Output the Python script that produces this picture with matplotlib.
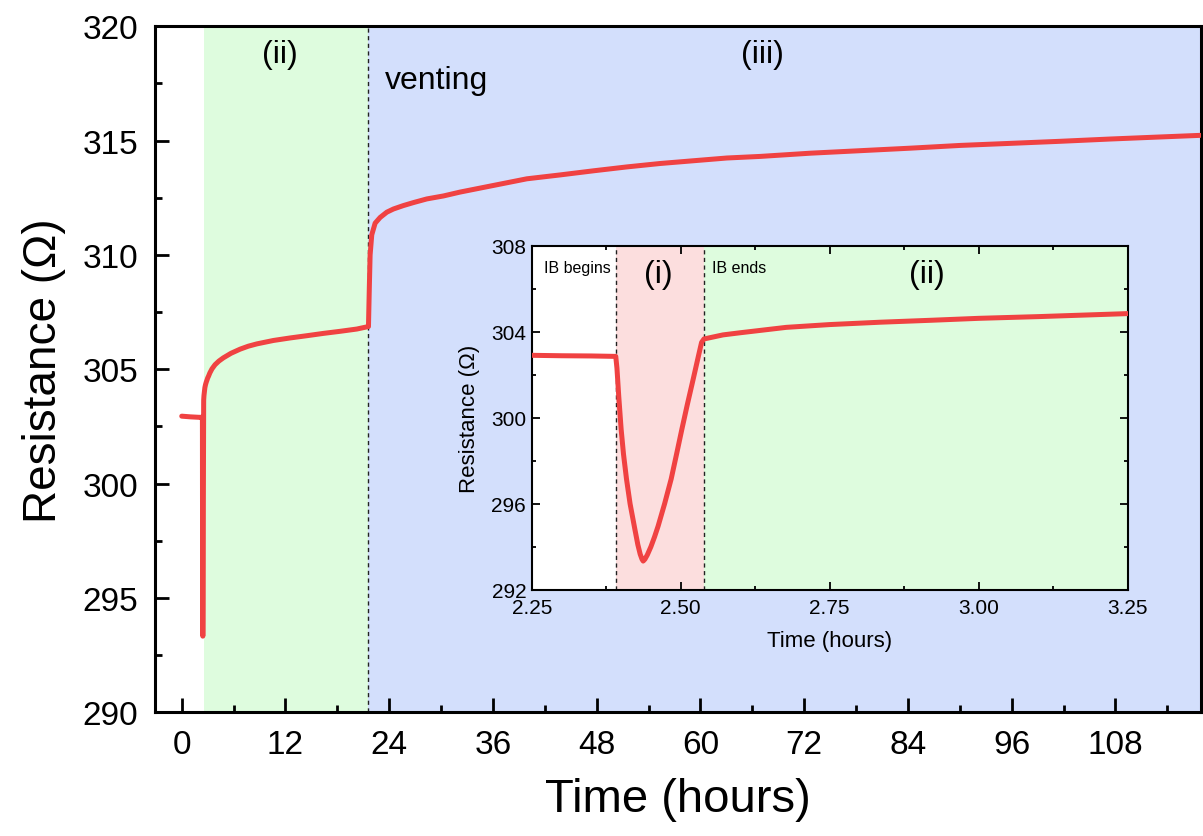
import matplotlib
matplotlib.use("Agg")
import matplotlib.pyplot as plt
import numpy as np

plt.rcParams['font.family'] = ['Liberation Sans', 'DejaVu Sans']

# ---- data ----
time_h = [0.0, 1.0, 2.0, 2.25, 2.30, 2.35, 2.391,
          2.393, 2.396, 2.400, 2.404, 2.409, 2.415, 2.423, 2.428, 2.432, 2.435, 2.437, 2.440, 2.444, 2.450,
          2.456, 2.462, 2.473, 2.484, 2.493, 2.502, 2.511, 2.521, 2.530, 2.535, 2.539,
          2.571, 2.60, 2.677, 2.75, 2.835, 2.92, 3.0, 3.1, 3.25,
          3.5, 3.85, 4.3, 4.81, 5.7, 6.75, 7.7, 8.68, 10.6, 12.53, 14.5, 16.39, 18.3, 20.25, 21.6,
          21.7, 21.79, 21.98, 22.37, 22.95, 23.72, 24.49, 25.64, 26.8, 28.35, 30.27, 32.2,
          36.06, 39.92, 43.77, 47.63, 51.49, 55.35, 59.2, 63.06, 66.95, 72.7, 78.5, 84.3,
          90.06, 95.85, 101.6, 107.4, 113.2, 117.8]
resistance = [302.95, 302.92, 302.9, 302.9, 302.88, 302.87, 302.85,
              302.3, 301.0, 299.47, 298.3, 297.15, 296.0, 294.82, 294.1, 293.65, 293.42, 293.33, 293.42, 293.62, 294.0,
              294.45, 294.95, 296.0, 297.15, 298.3, 299.47, 300.6, 301.8, 302.9, 303.5, 303.66,
              303.85, 303.95, 304.2, 304.33, 304.44, 304.53, 304.62, 304.7, 304.84,
              305.02, 305.2, 305.36, 305.5, 305.7, 305.88, 306.01, 306.11, 306.26, 306.37, 306.47, 306.57, 306.66, 306.76, 306.87,
              308.6, 310.0, 310.88, 311.39, 311.64, 311.87, 312.01, 312.16, 312.29, 312.45, 312.58, 312.75,
              313.04, 313.33, 313.5, 313.68, 313.85, 314.0, 314.12, 314.24, 314.31, 314.45, 314.56, 314.67,
              314.79, 314.88, 314.97, 315.07, 315.16, 315.23]

main_xticks = [0, 12, 24, 36, 48, 60, 72, 84, 96, 108]
main_yticks = [290, 295, 300, 305, 310, 315, 320]
inset_xticks = [2.25, 2.50, 2.75, 3.00, 3.25]
inset_yticks = [292, 296, 300, 304, 308]

ib_begin, ib_end, vent_t = 2.391, 2.539, 21.6

RED = '#F04242'
GREEN = '#DEFCDE'
BLUE = '#D3DFFC'
PINK = '#FCDEDE'

fig = plt.figure(figsize=(12.03, 8.37), dpi=100)
ax = fig.add_axes([0.1288, 0.1478, 0.8695, 0.8196])

ax.axvspan(ib_end, vent_t, color=GREEN, lw=0, zorder=0)
ax.axvspan(vent_t, 130, color=BLUE, lw=0, zorder=0)
ax.axvline(vent_t, color='#222222', ls=(0, (3, 2.5)), lw=1.0, zorder=1)
ax.plot(time_h, resistance, color=RED, lw=3.6, solid_capstyle='round',
        solid_joinstyle='round', zorder=3)

ax.set_xticks(main_xticks)
ax.set_xticks(np.arange(-6, 120, 6), minor=True)
ax.set_yticks(main_yticks)
ax.set_yticks(np.arange(287.5, 321, 2.5), minor=True)
ax.set_xlim(-3.1, 117.9)
ax.set_ylim(290, 320)
ax.tick_params(which='major', direction='in', length=10, width=2, labelsize=24, pad=12)
ax.tick_params(axis='y', which='major', pad=12)
ax.tick_params(which='minor', direction='in', length=5, width=2)
for s in ax.spines.values():
    s.set_linewidth(2.2)
ax.set_xlabel('Time (hours)', fontsize=34, labelpad=12)
ax.set_ylabel('Resistance (\u03a9)', fontsize=33, labelpad=12)

ax.text(11.4, 318.8, '(ii)', fontsize=23, ha='center', va='center')
ax.text(67.2, 318.8, '(iii)', fontsize=23, ha='center', va='center')
ax.text(23.5, 317.65, 'venting', fontsize=23, ha='left', va='center')

# ---- inset ----
ins = fig.add_axes([0.442, 0.2943, 0.4954, 0.411])
ins.set_facecolor('white')
ins.axvspan(ib_begin, ib_end, color=PINK, lw=0, zorder=0)
ins.axvspan(ib_end, 4, color=GREEN, lw=0, zorder=0)
for v in (ib_begin, ib_end):
    ins.axvline(v, color='#222222', ls=(0, (3, 2.5)), lw=1.0, zorder=1)
ins.plot(time_h, resistance, color=RED, lw=3.6, solid_joinstyle='round', zorder=3)
ins.set_xticks(inset_xticks)
ins.set_xticklabels([f'{v:.2f}' for v in inset_xticks])
ins.set_xticks(np.arange(2.375, 3.25, 0.25), minor=True)
ins.set_yticks(inset_yticks)
ins.set_yticks(np.arange(294, 308, 4), minor=True)
ins.set_xlim(2.25, 3.25)
ins.set_ylim(292, 308)
ins.tick_params(which='major', direction='in', length=6, width=1.3, labelsize=15, pad=4,
                top=True, right=True)
ins.tick_params(axis='x', which='major', pad=6)
ins.tick_params(which='minor', direction='in', length=3, width=1.3, top=True, right=True)
for s in ins.spines.values():
    s.set_linewidth(1.5)
ins.set_xlabel('Time (hours)', fontsize=16, labelpad=9)
ins.set_ylabel('Resistance (\u03a9)', fontsize=16, labelpad=8)
ins.text(2.27, 307.0, 'IB begins', fontsize=11.5, ha='left', va='center')
ins.text(2.552, 307.0, 'IB ends', fontsize=11.5, ha='left', va='center')
ins.text(2.462, 306.7, '(i)', fontsize=23, ha='center', va='center')
ins.text(2.913, 306.7, '(ii)', fontsize=23, ha='center', va='center')

fig.savefig('out.png', dpi=100)
